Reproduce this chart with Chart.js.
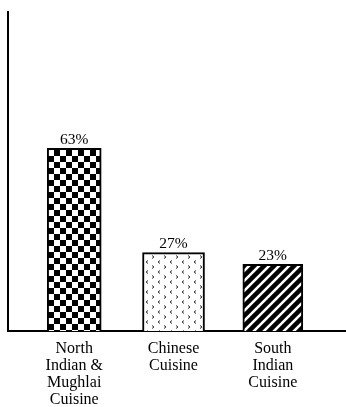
<!DOCTYPE html>
<html><head><meta charset="utf-8">
<script src="https://cdn.jsdelivr.net/npm/chart.js@4.4.1/dist/chart.umd.min.js"></script>
<style>html,body{margin:0;padding:0;background:#fff;}canvas{display:block;}</style>
</head><body>
<canvas id="c" width="346" height="407"></canvas>
<script>
const categories = [["North","Indian &","Mughlai","Cuisine"],["Chinese","Cuisine"],["South","Indian","Cuisine"]];
const values = [63, 27, 23];
const valueLabels = ["63%", "27%", "23%"];
const positions = [1, 2, 3];

function tile(w, h, draw) {
  const c = document.createElement('canvas'); c.width = w; c.height = h;
  const g = c.getContext('2d'); g.fillStyle = '#fff'; g.fillRect(0,0,w,h); draw(g);
  return g.createPattern(c, 'repeat');
}
const ctx = document.getElementById('c').getContext('2d');
const checker = tile(12, 12, g => { g.fillStyle = '#000'; g.fillRect(0,0,6,6); g.fillRect(6,6,6,6); });
const dots = tile(12, 10, g => {
  g.strokeStyle = '#333'; g.lineWidth = 1;
  g.beginPath(); g.moveTo(4,0.5); g.lineTo(2,2); g.lineTo(4,3.5); g.stroke();
  g.beginPath(); g.moveTo(8,5.5); g.lineTo(10,7); g.lineTo(8,8.5); g.stroke();
});
const stripes = tile(10, 10, g => {
  g.strokeStyle = '#000'; g.lineWidth = 4.5;
  g.beginPath(); g.moveTo(-5,15); g.lineTo(15,-5); g.stroke();
  g.beginPath(); g.moveTo(-5,5); g.lineTo(5,-5); g.stroke();
  g.beginPath(); g.moveTo(5,15); g.lineTo(15,5); g.stroke();
});
const fills = [checker, dots, stripes];
const widths = [54, 62, 60];

const datasets = values.map((v, i) => ({
  data: [{x: positions[i], y: v}],
  backgroundColor: fills[i],
  borderColor: '#000',
  borderWidth: 2,
  barThickness: widths[i],
  grouped: false
}));

const valuePlugin = {
  id: 'vals',
  afterDatasetsDraw(chart) {
    const c = chart.ctx;
    c.save();
    c.font = '15.5px "Liberation Serif", serif';
    c.fillStyle = '#000'; c.textAlign = 'center'; c.textBaseline = 'bottom';
    chart.data.datasets.forEach((ds, i) => {
      const el = chart.getDatasetMeta(i).data[0];
      c.fillText(valueLabels[i], el.x, el.y - 1);
    });
    c.restore();
  }
};

new Chart(ctx, {
  type: 'bar',
  data: { datasets },
  options: {
    responsive: false, animation: false, devicePixelRatio: 1,
    layout: { padding: { top: 12, left: 8, right: 0, bottom: -10 } },
    plugins: { legend: { display: false }, tooltip: { enabled: false } },
    scales: {
      x: {
        type: 'linear', min: 0.333, max: 3.737, offset: false,
        grid: { display: false, drawTicks: false },
        border: { display: true, color: '#000', width: 2 },
        afterBuildTicks: s => { s.ticks = positions.map(p => ({ value: p })); },
        ticks: {
          autoSkip: false, maxRotation: 0, padding: 9, color: '#000',
          font: { family: '"Liberation Serif", serif', size: 16, lineHeight: '17px' },
          callback: v => categories[positions.indexOf(v)]
        }
      },
      y: {
        min: 0, max: 110,
        grid: { display: false, drawTicks: false },
        border: { display: true, color: '#000', width: 2 },
        ticks: { display: false }
      }
    }
  },
  plugins: [valuePlugin]
});
</script>
</body></html>
